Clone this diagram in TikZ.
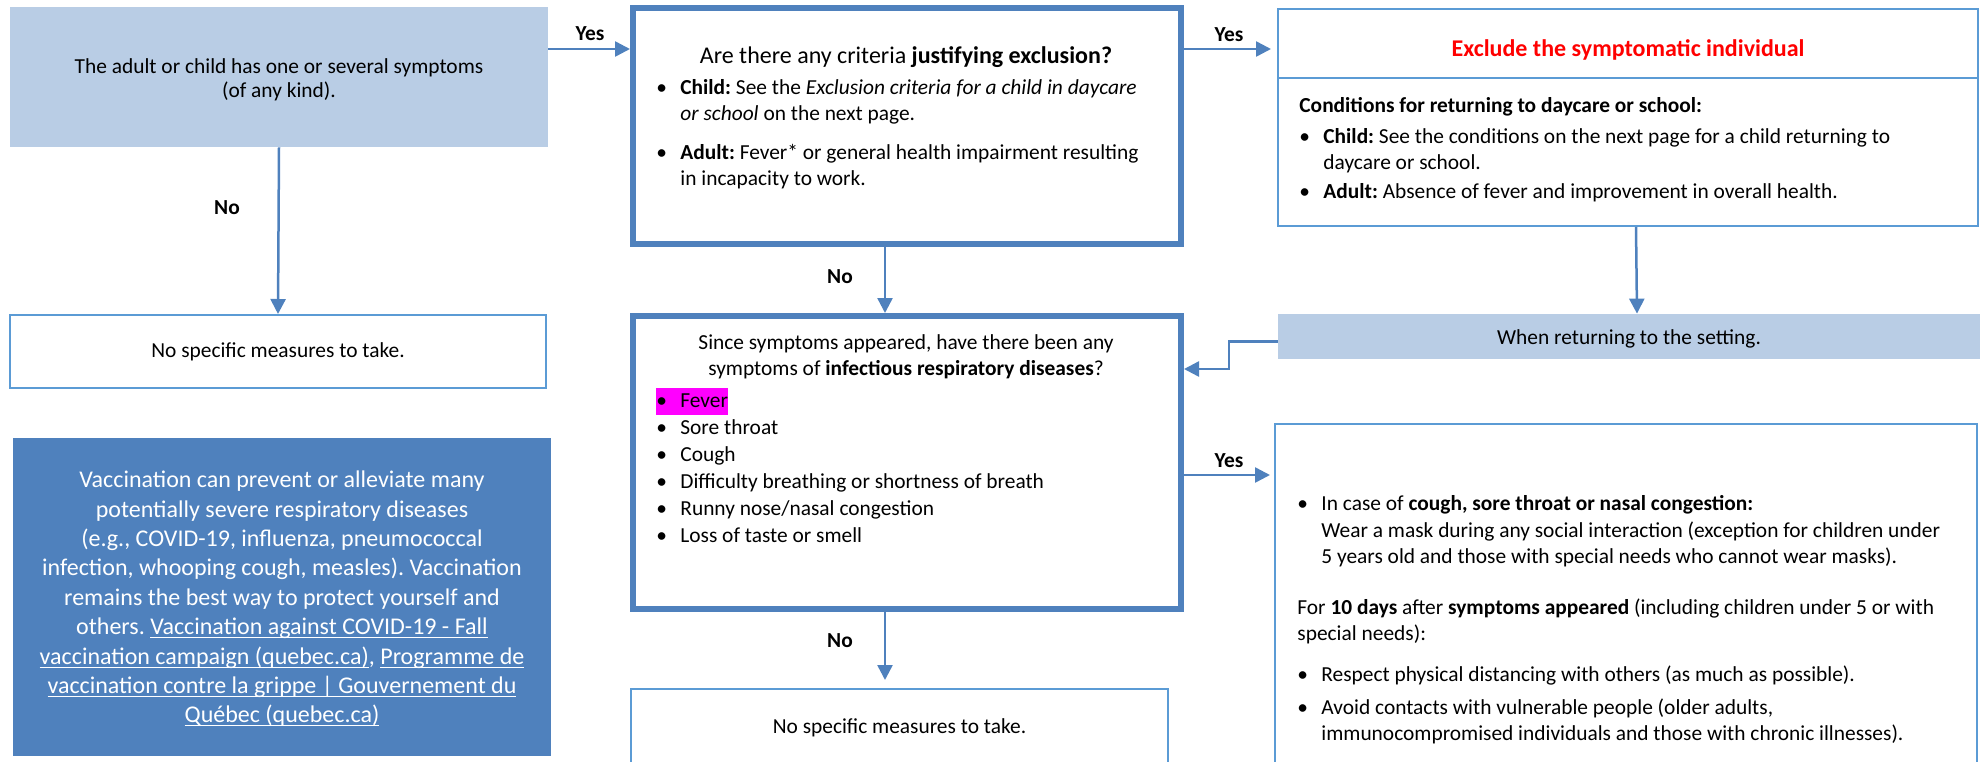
\documentclass[tikz,border=0pt]{standalone}
\usepackage{fontspec}
\setmainfont{Carlito}
\usetikzlibrary{arrows.meta,fit}
\definecolor{flow}{HTML}{4F81BD}
\definecolor{pale}{HTML}{B9CDE5}
\definecolor{thinblue}{HTML}{5B9BD5}
\definecolor{hilite}{HTML}{FF00FF}
\definecolor{alert}{HTML}{FF0000}
\newcommand\bodyfont{\fontsize{10.7}{13}\selectfont}
\newcommand\bigfont{\fontsize{12}{14.7}\selectfont}
\newcommand\itm{\makebox[12pt][l]{\textbullet}}
\newcommand\bcont{\hspace*{12pt}}
\newcommand\lnk[1]{\underline{\smash{#1}}}
\setlength{\fboxsep}{0pt}
\frenchspacing

\begin{document}
\begin{tikzpicture}[x=0.5pt, y=-0.5pt, font=\bodyfont,
  thinbox/.style={draw=thinblue, line width=1pt, inner sep=0pt},
  thickbox/.style={draw=flow, line width=3pt, inner sep=0pt},
  filled/.style={fill=#1, inner sep=0pt},
  arr/.style={flow, line width=1.25pt, -{Triangle[length=7.5pt,width=7.5pt]}},
  lbl/.style={font=\bodyfont\bfseries},
  txt/.style={anchor=north west, align=left, inner sep=0pt}]
  \useasboundingbox (0,0) rectangle (1986,761);

  % Left column
  \node[filled=pale, fit={(10,7) (548,147)}] (sympt) {};
  \node[align=center, font={\fontsize{10.7}{12}\selectfont}] (symptTxt) at ([yshift=-1.5pt]sympt.center)
    {The adult or child has one or several symptoms\\(of any kind).};
  \node[thinbox, fit={(10,315) (546,388)}] (nomeas1) {};
  \node (nomeas1Txt) at (nomeas1.center) {No specific measures to take.};
  \node[filled=flow, fit={(13,438) (551,756)}] (vacc) {};
  \node[align=center, text=white, font=\bigfont] (vaccTxt) at ([yshift=-1pt]vacc.center)
    {Vaccination can prevent or alleviate many\\potentially severe respiratory diseases\\(e.g., COVID-19, influenza, pneumococcal\\infection, whooping cough, measles). Vaccination\\remains the best way to protect yourself and\\others. \lnk{Vaccination against COVID-19 - Fall}\\\lnk{vaccination campaign (quebec.ca)}, \lnk{Programme de}\\\lnk{vaccination contre la grippe | Gouvernement du}\\\lnk{Québec (quebec.ca)}};

  % Middle column
  \node[thickbox, fit={(633,8) (1181,244)}] (criteria) {};
  \node[font=\bigfont] (critTitle) at (906,57) {Are there any criteria \textbf{justifying exclusion?}};
  \node[txt] (critList) at (656,76)
    {\strut\itm\textbf{Child:} See the \textit{Exclusion criteria for a child in daycare}\\%
     \bcont\textit{or school} on the next page.\\[6.5pt]%
     \itm\textbf{Adult:} Fever* or general health impairment resulting\\%
     \bcont in incapacity to work.};
  \node[thickbox, fit={(633,316) (1181,609)}] (resp) {};
  \node[align=center] (respQ) at (906,357)
    {Since symptoms appeared, have there been any\\symptoms of \textbf{infectious respiratory diseases}?};
  \node[txt, font={\fontsize{10.7}{13.5}\selectfont}] (respList) at (656,388)
    {\colorbox{hilite}{\strut\itm Fever}\\%
     \itm Sore throat\\%
     \itm Cough\\%
     \itm Difficulty breathing or shortness of breath\\%
     \itm Runny nose/nasal congestion\\%
     \itm Loss of taste or smell};
  \node[thinbox, fit={(631,689) (1168,766)}] (nomeas2) {};
  \node (nomeas2Txt) at (nomeas2.center) {No specific measures to take.};

  % Right column
  \node[thinbox, fit={(1278,9) (1978,78)}] (exclTop) {};
  \node[thinbox, fit={(1278,78) (1978,226)}] (exclBody) {};
  \node[font=\bigfont\bfseries, text=alert] (exclTitle) at (1628,50) {Exclude the symptomatic individual};
  \node[txt] (exclList) at (1299,94)
    {\strut\textbf{Conditions for returning to daycare or school:}\\[2.5pt]%
     \itm\textbf{Child:} See the conditions on the next page for a child returning to\\%
     \bcont daycare or school.\\[1.5pt]%
     \itm\textbf{Adult:} Absence of fever and improvement in overall health.};
  \node[filled=pale, fit={(1278,314) (1980,359)}] (return) {};
  \node (returnTxt) at ([yshift=-1pt]return.center) {When returning to the setting.};
  \node[thinbox, fit={(1275,424) (1977,800)}] (mask) {};
  \node[txt] (maskList) at (1297,492)
    {\strut\itm In case of \textbf{cough, sore throat or nasal congestion:}\\[0.5pt]%
     \bcont Wear a mask during any social interaction (exception for children under\\%
     \bcont 5 years old and those with special needs who cannot wear masks).\\[12.5pt]%
     For \textbf{10 days} after \textbf{symptoms appeared} (including children under 5 or with\\%
     special needs):\\[7.5pt]%
     \itm Respect physical distancing with others (as much as possible).\\[3.5pt]%
     \itm Avoid contacts with vulnerable people (older adults,\\%
     \bcont immunocompromised individuals and those with chronic illnesses).};

  % Connectors
  \draw[arr] (sympt.east |- 0,49) -- (criteria.west |- 0,49);
  \node[lbl] (yes1) at (590,34) {Yes};
  \draw[arr] (sympt.south) -- (nomeas1.north);
  \node[lbl] (no1) at (227,208) {No};
  \draw[arr, shorten >=3pt] (criteria.east |- 0,49) -- (exclTop.west |- 0,49);
  \node[lbl] (yes2) at (1229,35) {Yes};
  \draw[arr] ([xshift=-11pt]criteria.south) -- ([xshift=-11pt]resp.north);
  \node[lbl] (no2) at (840,277) {No};
  \draw[arr] ([xshift=4pt]exclBody.south) -- ([xshift=4pt]return.north);
  \coordinate (turn) at (1229,369);
  \draw[arr] ([yshift=-2.5pt]return.west) -| (turn) -- (resp.east |- turn);
  \draw[arr, shorten >=2pt] (resp.east |- 0,475) -- (mask.west |- 0,475);
  \node[lbl] (yes3) at (1229,461) {Yes};
  \draw[arr, shorten >=4pt] ([xshift=-11pt]resp.south) -- ([xshift=-11pt]resp.south |- nomeas2.north);
  \node[lbl] (no3) at (840,641) {No};
\end{tikzpicture}
\end{document}
